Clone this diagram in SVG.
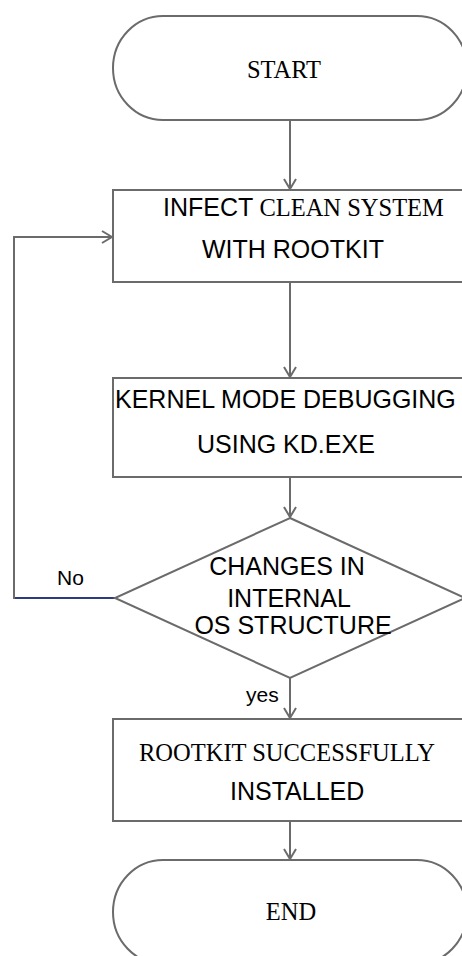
<svg xmlns="http://www.w3.org/2000/svg" width="462" height="956" viewBox="0 0 462 956">
  <style>
    .shape { fill: #ffffff; stroke: #6b6b6b; stroke-width: 2; }
    .line { fill: none; stroke: #6b6b6b; stroke-width: 2; }
    .blue { fill: none; stroke: #2a3b7e; stroke-width: 2; }
    .sans { font-family: "Liberation Sans", Arial, sans-serif; font-size: 25px; fill: #000; }
    .serif { font-family: "Liberation Serif", "Times New Roman", serif; font-size: 24.5px; fill: #000; }
    .label { font-family: "Liberation Sans", Arial, sans-serif; font-size: 21px; fill: #000; }
  </style>
  <defs>
    <marker id="arrow" viewBox="0 0 12 14" refX="11" refY="7" markerWidth="12" markerHeight="14" markerUnits="userSpaceOnUse" orient="auto">
      <path d="M1,1 L11,7 L1,13" fill="none" stroke="#6b6b6b" stroke-width="2"/>
    </marker>
  </defs>

  <g id="connectors">
    <line class="line" x1="290" y1="120" x2="290" y2="189" marker-end="url(#arrow)"/>
    <line class="line" x1="290" y1="282" x2="290" y2="377" marker-end="url(#arrow)"/>
    <line class="line" x1="290" y1="477" x2="290" y2="517" marker-end="url(#arrow)"/>
    <line class="line" x1="290" y1="678" x2="290" y2="718" marker-end="url(#arrow)"/>
    <line class="line" x1="290" y1="821" x2="290" y2="859" marker-end="url(#arrow)"/>
    <!-- "No" branch loops back to the infection step -->
    <line class="blue" x1="14" y1="598" x2="115" y2="598"/>
    <polyline class="line" points="14,599 14,237 112,237" marker-end="url(#arrow)"/>
    <text class="label" x="57" y="585">No</text>
    <text class="label" x="246" y="702">yes</text>
  </g>

  <g id="start">
    <rect class="shape" x="113" y="16" width="354" height="104" rx="50" ry="52"/>
    <text class="serif" x="284" y="78" text-anchor="middle">START</text>
  </g>

  <g id="infect">
    <rect class="shape" x="113" y="190" width="354" height="92"/>
    <text x="163" y="216"><tspan class="sans">INFECT</tspan><tspan class="serif"> CLEAN SYSTEM</tspan></text>
    <text class="sans" x="202" y="258">WITH ROOTKIT</text>
  </g>

  <g id="debug">
    <rect class="shape" x="113" y="378" width="354" height="99"/>
    <text class="sans" x="115" y="408">KERNEL MODE DEBUGGING</text>
    <text class="sans" x="197" y="453">USING KD.EXE</text>
  </g>

  <g id="decision">
    <polygon class="shape" points="290,518 465,598 290,678 115,598"/>
    <text class="sans" x="287" y="575" text-anchor="middle" font-size="24.5">CHANGES IN</text>
    <text class="sans" x="289" y="607" text-anchor="middle" font-size="24.5">INTERNAL</text>
    <text class="sans" x="293" y="634" text-anchor="middle" font-size="24.5">OS STRUCTURE</text>
  </g>

  <g id="installed">
    <rect class="shape" x="113" y="719" width="354" height="102"/>
    <text class="serif" x="139" y="761">ROOTKIT SUCCESSFULLY</text>
    <text class="sans" x="230" y="800">INSTALLED</text>
  </g>

  <g id="end">
    <rect class="shape" x="113" y="860" width="354" height="104" rx="50" ry="52"/>
    <text class="serif" x="291" y="920" text-anchor="middle">END</text>
  </g>
</svg>
